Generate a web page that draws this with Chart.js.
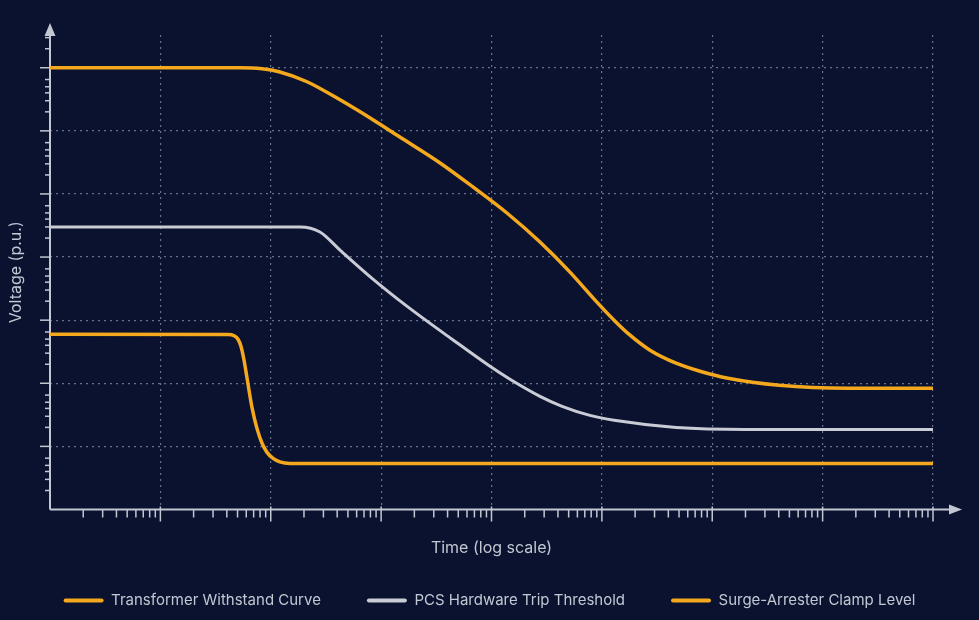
<!DOCTYPE html>
<html>
<head>
<meta charset="utf-8">
<style>
  html, body { margin: 0; padding: 0; background: #0a1230; }
  #wrap { width: 979px; height: 620px; }
  canvas { display: block; }
</style>
<script src="https://cdn.jsdelivr.net/npm/chart.js@4.4.1/dist/chart.umd.min.js"></script>
</head>
<body>
<div id="wrap"><canvas id="c" width="979" height="620"></canvas></div>
<script>
// ---- Data (time on log axis, voltage on log axis) ----
const seriesNames = ['Transformer Withstand Curve', 'PCS Hardware Trip Threshold', 'Surge-Arrester Clamp Level'];

const transformerTime = [1, 8.05, 52.6, 83.4, 119, 213, 424, 843, 1420, 3420, 6790, 13800, 27500, 51400, 86700, 129000, 180000, 273000, 470000, 774000, 1390000, 4030000, 17000000, 100000000];
const transformerVolt = [1e7, 1e7, 1e7, 9.64e6, 8.65e6, 6.0e6, 3.1e6, 1.5e6, 8.34e5, 3.10e5, 1.29e5, 4.99e4, 1.73e4, 5780, 2080, 1000, 578, 334, 208, 155, 120, 92.9, 83.4, 83.4];

const pcsTime = [1, 8.05, 184, 279, 424, 843, 1710, 4390, 9690, 14700, 27500, 43600, 78000, 129000, 470000, 1980000, 100000000];
const pcsVolt = [29900, 29900, 29900, 24900, 12900, 4480, 1670, 499, 186, 116, 62.2, 43.2, 31.0, 25.9, 20.0, 18.6, 18.6];

const surgeTime = [1, 41.0, 46.5, 50.5, 53.7, 57.3, 61.0, 67.6, 75.0, 83.4, 92.5, 105, 121, 149, 100000000];
const surgeVolt = [600, 593, 568, 499, 387, 232, 120, 41.6, 19.3, 11.2, 8.04, 6.45, 5.68, 5.37, 5.37];

// Tick values (no labels shown on the axes)
const timeDecades = [1, 10, 100, 1000, 10000, 100000, 1000000, 10000000, 100000000];
const timeMinorMultipliers = [2, 3, 4, 5, 6, 7, 8, 9];
const voltDecades = [1, 10, 100, 1000, 10000, 100000, 1000000, 10000000];
const voltMinorMultipliers = [2, 3, 4, 5, 6.5];

const X_MIN = 1, X_MAX = 100000000;
const Y_MIN = 1, Y_MAX = 33000000;

// ---- Styles ----
const AXIS = '#c3c7d2';
const GRID = 'rgba(180,190,215,0.55)';
const ORANGE = '#f4a81d';
const GRAY = '#c9ccd4';
const TEXT = '#c3c7d2';

Chart.defaults.font.family = 'Inter, "Noto Sans", sans-serif';

function isDecade(v) {
  const l = Math.log10(v);
  return Math.abs(l - Math.round(l)) < 1e-9;
}
function buildTicks(decades, mults, max) {
  const out = [];
  decades.forEach(d => {
    out.push(d);
    mults.forEach(m => { const v = m * d; if (v < max && !decades.includes(v)) out.push(v); });
  });
  return out.filter(v => v <= max).sort((a, b) => a - b);
}
const xTickValues = buildTicks(timeDecades, timeMinorMultipliers, X_MAX);
const yTickValues = buildTicks(voltDecades, voltMinorMultipliers, Y_MAX);

function toPoints(xs, ys) { return xs.map((x, i) => ({ x: x, y: ys[i] })); }

const axesPlugin = {
  id: 'axesDeco',
  beforeDatasetsDraw(chart) {
    const { ctx, chartArea: a, scales: { x, y } } = chart;
    const x0 = a.left, y0 = a.bottom;
    ctx.save();
    ctx.strokeStyle = AXIS;
    ctx.fillStyle = AXIS;
    ctx.lineWidth = 1.5;
    x.ticks.forEach(t => {
      if (t.value <= X_MIN) return;
      const px = x.getPixelForValue(t.value);
      const maj = isDecade(t.value);
      ctx.beginPath();
      ctx.moveTo(px, maj ? y0 - 3 : y0);
      ctx.lineTo(px, maj ? y0 + 12 : y0 + 8);
      ctx.stroke();
    });
    y.ticks.forEach(t => {
      if (t.value <= Y_MIN) return;
      const py = y.getPixelForValue(t.value);
      const maj = isDecade(t.value);
      ctx.beginPath();
      ctx.moveTo(maj ? x0 - 10 : x0 - 5, py);
      ctx.lineTo(x0, py);
      ctx.stroke();
    });
    ctx.lineWidth = 2;
    ctx.beginPath();
    ctx.moveTo(x0, y0);
    ctx.lineTo(a.right + 18, y0);
    ctx.stroke();
    ctx.beginPath();
    ctx.moveTo(x0, y0);
    ctx.lineTo(x0, a.top);
    ctx.stroke();
    // arrow heads
    ctx.beginPath();
    ctx.moveTo(a.right + 29, y0);
    ctx.lineTo(a.right + 16, y0 - 5);
    ctx.lineTo(a.right + 16, y0 + 5);
    ctx.closePath();
    ctx.fill();
    ctx.beginPath();
    ctx.moveTo(x0, a.top - 12);
    ctx.lineTo(x0 - 5.5, a.top + 1);
    ctx.lineTo(x0 + 5.5, a.top + 1);
    ctx.closePath();
    ctx.fill();
    ctx.restore();
  }
};

const gridColor = (min) => (c) => (c.tick && c.tick.value > min && isDecade(c.tick.value)) ? GRID : 'rgba(0,0,0,0)';

new Chart(document.getElementById('c'), {
  type: 'line',
  data: {
    datasets: [
      { label: seriesNames[0], data: toPoints(transformerTime, transformerVolt), borderColor: ORANGE, backgroundColor: ORANGE, borderWidth: 3.5 },
      { label: seriesNames[1], data: toPoints(pcsTime, pcsVolt), borderColor: GRAY, backgroundColor: GRAY, borderWidth: 3 },
      { label: seriesNames[2], data: toPoints(surgeTime, surgeVolt), borderColor: ORANGE, backgroundColor: ORANGE, borderWidth: 3.5 }
    ]
  },
  options: {
    responsive: false,
    devicePixelRatio: 1,
    animation: false,
    events: [],
    layout: { padding: { top: 35, right: 0, left: 0, bottom: 2 } },
    elements: {
      line: { cubicInterpolationMode: 'monotone', fill: false, borderCapStyle: 'butt', borderJoinStyle: 'round' },
      point: { radius: 0 }
    },
    scales: {
      x: {
        type: 'logarithmic', min: X_MIN, max: X_MAX,
        afterBuildTicks(s) { s.ticks = xTickValues.map(v => ({ value: v })); },
        afterFit(s) { s.height = 37.5; },
        ticks: { display: false },
        grid: { color: gridColor(X_MIN), lineWidth: 1.2, drawTicks: false },
        border: { display: false, dash: [2, 4] },
        title: { display: true, text: 'Time (log scale)', color: TEXT, font: { size: 16 }, padding: { top: 0, bottom: -11 } }
      },
      y: {
        type: 'logarithmic', min: Y_MIN, max: Y_MAX,
        afterBuildTicks(s) { s.ticks = yTickValues.map(v => ({ value: v })); },
        afterFit(s) { s.width = 50; },
        ticks: { display: false },
        grid: { color: gridColor(Y_MIN), lineWidth: 1.2, drawTicks: false },
        border: { display: false, dash: [2, 4] },
        title: { display: true, text: 'Voltage (p.u.)', color: TEXT, font: { size: 16 }, padding: { top: 7, bottom: 0 } }
      },
      yRightSpace: {
        type: 'linear', position: 'right', display: true,
        afterFit(s) { s.width = 46; },
        ticks: { display: false },
        grid: { display: false, drawTicks: false },
        border: { display: false }
      }
    },
    plugins: {
      legend: {
        position: 'bottom',
        labels: {
          color: TEXT,
          font: { size: 15 },
          boxWidth: 40,
          boxHeight: 4,
          padding: 46,
          useBorderRadius: true,
          borderRadius: 2,
          generateLabels(chart) {
            return chart.data.datasets.map((ds, i) => ({
              text: ds.label, fillStyle: ds.borderColor, strokeStyle: ds.borderColor,
              lineWidth: 0, fontColor: TEXT, datasetIndex: i, hidden: false, borderRadius: 2
            }));
          }
        }
      },
      tooltip: { enabled: false }
    }
  },
  plugins: [axesPlugin]
});
</script>
</body>
</html>
